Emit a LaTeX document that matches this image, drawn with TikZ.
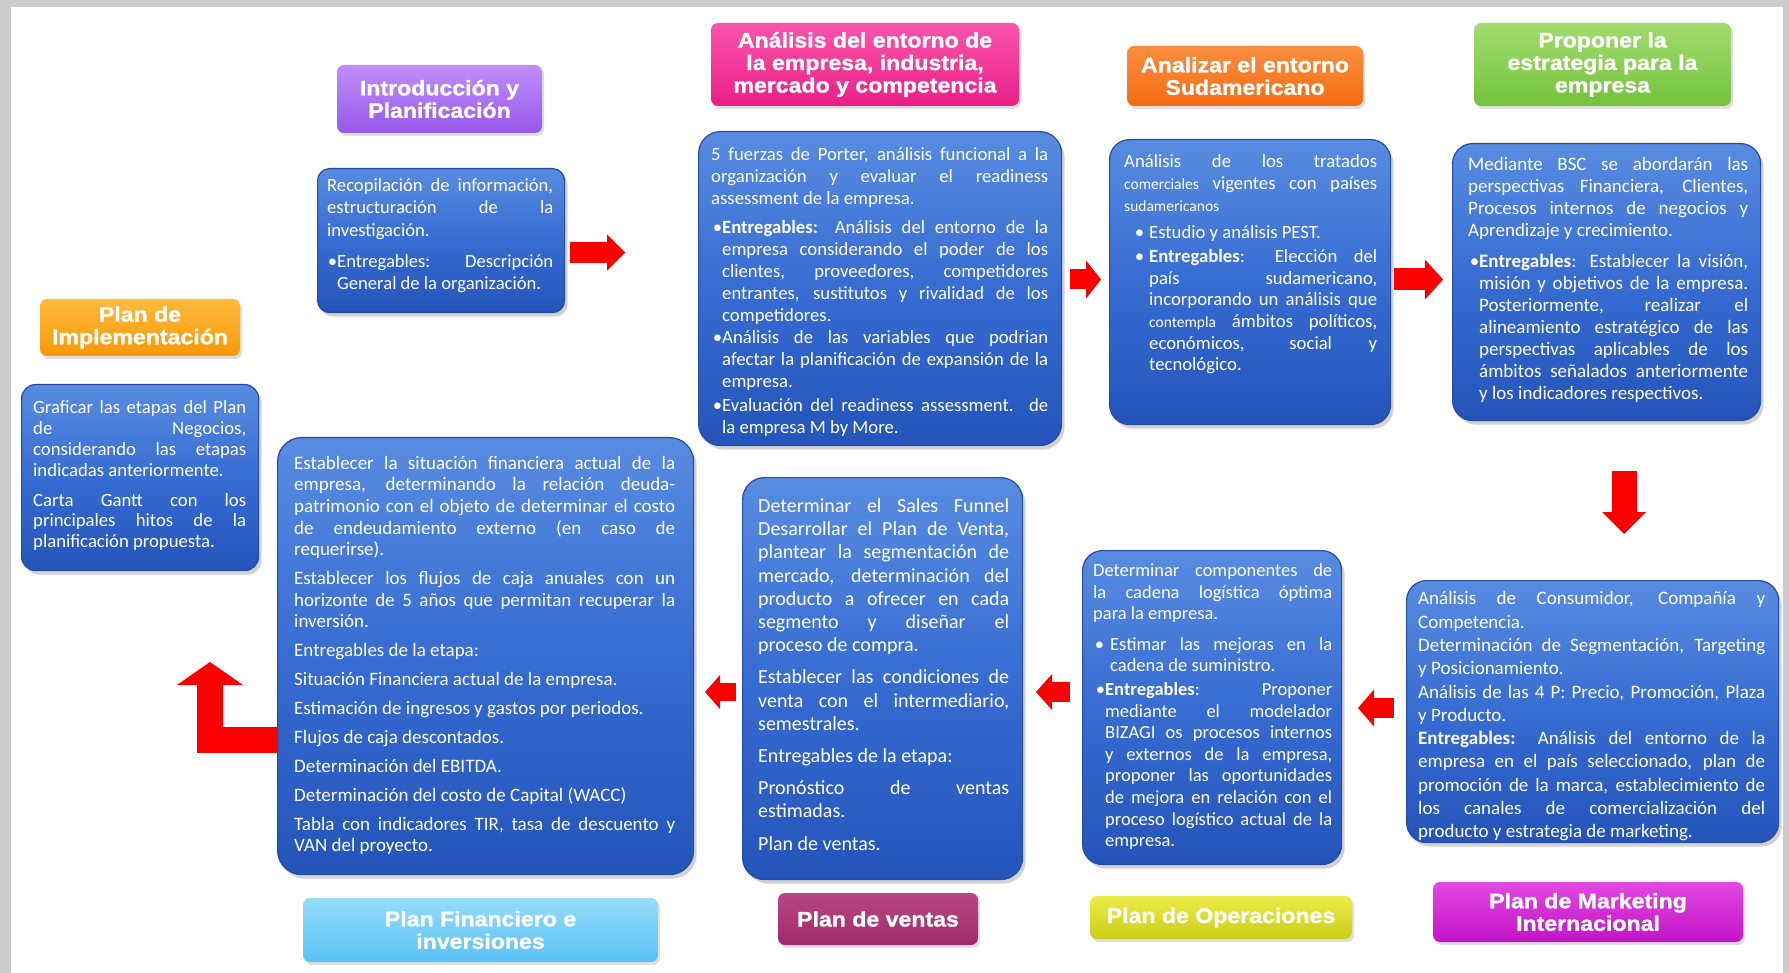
\documentclass[tikz,border=0pt]{standalone}
\usepackage{fontspec}
\setmainfont{Carlito}
\newfontfamily\titlefont{Liberation Sans}[FakeStretch=1.1, FakeBold=1.2]
\usetikzlibrary{shadows,arrows.meta}

\definecolor{boxtop}{RGB}{88,140,225}
\definecolor{boxmid}{RGB}{55,108,210}
\definecolor{boxbot}{RGB}{36,84,186}
\definecolor{boxline}{RGB}{38,76,160}
\definecolor{arrred}{RGB}{250,0,0}

\newcommand\bul[3]{{\leftskip=#1\relax\noindent\llap{•\hspace{#2}}#3\par}}

\tikzset{
  bluebox/.style={draw=boxline, line width=1.2pt, rounded corners=18pt,
    top color=boxtop, bottom color=boxbot, middle color=boxmid,
    inner sep=0pt, anchor=north west,
    drop shadow={shadow xshift=3pt, shadow yshift=-4pt, opacity=0.35}},
  btxt/.style={text=white, inner sep=0pt, anchor=north west, align=justify},
  title/.style={rounded corners=7pt, text=white, align=center, inner sep=0pt,
    font=\titlefont\bfseries\fontsize{21}{22.5}\selectfont,
    drop shadow={shadow xshift=2pt, shadow yshift=-3pt, opacity=0.25}},
  redarr/.style={draw=arrred, line join=miter},
}

\begin{document}
\begin{tikzpicture}[x=1pt,y=-1pt]
\useasboundingbox (0,0) rectangle (1789,973);
\fill[gray!40] (0,0) rectangle (1789,973);
\fill[white] (11,7) rectangle (1783,973);

% ---------- titles ----------
\node[title, top color={rgb,255:red,192;green,142;blue,250}, bottom color={rgb,255:red,152;green,88;blue,235},
  minimum width=205pt, minimum height=68pt] (h1) at (439.5,99) {Introducción y\\Planificación};
\node[title, top color={rgb,255:red,250;green,85;blue,172}, bottom color={rgb,255:red,234;green,30;blue,135},
  minimum width=308pt, minimum height=83pt] (h2) at (865,64.5) {Análisis del entorno de\\la empresa, industria,\\mercado y competencia};
\node[title, top color={rgb,255:red,250;green,142;blue,62}, bottom color={rgb,255:red,245;green,108;blue,20},
  minimum width=236pt, minimum height=60pt] (h3) at (1245,76) {Analizar el entorno\\Sudamericano};
\node[title, top color={rgb,255:red,162;green,220;blue,110}, bottom color={rgb,255:red,115;green,194;blue,60},
  minimum width=257pt, minimum height=83pt] (h4) at (1602.5,64.5) {Proponer la\\estrategia para la\\empresa};
\node[title, top color={rgb,255:red,255;green,186;blue,60}, bottom color={rgb,255:red,248;green,152;blue,10},
  minimum width=200pt, minimum height=57pt] (h9) at (140,327.5) {Plan de\\Implementación};
\node[title, top color={rgb,255:red,150;green,220;blue,250}, bottom color={rgb,255:red,88;green,194;blue,245},
  minimum width=355pt, minimum height=64pt] (h8) at (480.5,930) {Plan Financiero e\\inversiones};
\node[title, top color={rgb,255:red,185;green,70;blue,132}, bottom color={rgb,255:red,158;green,44;blue,104},
  minimum width=200pt, minimum height=52pt] (h7) at (878,919) {Plan de ventas};
\node[title, top color={rgb,255:red,236;green,236;blue,72}, bottom color={rgb,255:red,204;green,204;blue,25},
  minimum width=262pt, minimum height=43pt] (h6) at (1221,917.5) {Plan de Operaciones};
\node[title, top color={rgb,255:red,226;green,72;blue,226}, bottom color={rgb,255:red,194;green,20;blue,200},
  minimum width=310pt, minimum height=60pt] (h5) at (1588,912) {Plan de Marketing\\Internacional};

% ---------- blue boxes ----------
\node[bluebox, rounded corners=12pt, minimum width=247pt, minimum height=144pt] (b1) at (317,168) {};
\node[bluebox, rounded corners=22pt, minimum width=363pt, minimum height=314pt] (b2) at (698,131) {};
\node[bluebox, rounded corners=20pt, minimum width=281pt, minimum height=285pt] (b3) at (1109,139) {};
\node[bluebox, rounded corners=20pt, minimum width=308pt, minimum height=277pt] (b4) at (1452,143) {};
\node[bluebox, rounded corners=20pt, minimum width=372pt, minimum height=262pt] (b5) at (1406,580) {};
\node[bluebox, rounded corners=20pt, minimum width=259pt, minimum height=314pt] (b6) at (1082,550) {};
\node[bluebox, rounded corners=22pt, minimum width=280pt, minimum height=402pt] (b7) at (742,477) {};
\node[bluebox, rounded corners=24pt, minimum width=416pt, minimum height=437pt] (b8) at (277,437) {};
\node[bluebox, rounded corners=14pt, minimum width=237pt, minimum height=186pt] (b9) at (21,384) {};

% ---------- texts ----------
\node[btxt, text width=226pt, font=\fontsize{18.6}{22.3}\selectfont] (t1) at (327,178.5) {%
\setlength\parindent{0pt}\setlength\parskip{9pt}%
Recopilación de información,\linebreak estructuración de la\linebreak investigación.\par
\bul{10pt}{0pt}{Entregables: Descripción\linebreak General de la organización.}};

\node[btxt, text width=337pt, font=\fontsize{18.7}{22}\selectfont] (t2) at (711,147.5) {%
\setlength\parindent{0pt}\setlength\parskip{0pt}%
5 fuerzas de Porter, análisis funcional a la\linebreak organización y evaluar el readiness\linebreak assessment de la empresa.\par\vspace{7pt}
\bul{11pt}{0pt}{\textbf{Entregables:} Análisis del entorno de la\linebreak empresa considerando el poder de los\linebreak clientes, proveedores, competidores\linebreak entrantes, sustitutos y rivalidad de los\linebreak competidores.}
\bul{11pt}{0pt}{Análisis de las variables que podrian\linebreak afectar la planificación de expansión de la\linebreak empresa.}\vspace{2pt}
\bul{11pt}{0pt}{Evaluación del readiness assessment. de\linebreak la empresa M by More.}};

\node[btxt, text width=253pt, font=\fontsize{18.7}{21.7}\selectfont] (t3) at (1124,154.5) {%
\setlength\parindent{0pt}\setlength\parskip{0pt}%
Análisis de los tratados\linebreak {\fontsize{15.5}{15}\selectfont comerciales} vigentes con países\linebreak {\fontsize{15.5}{15}\selectfont sudamericanos}\par\vspace{6pt}
\bul{25pt}{5pt}{Estudio y análisis PEST.}\vspace{2pt}
\bul{25pt}{5pt}{\textbf{Entregables}: Elección del\linebreak país sudamericano,\linebreak incorporando un análisis que\linebreak {\fontsize{15.5}{15}\selectfont contempla} ámbitos políticos,\linebreak económicos, social y\linebreak tecnológico.}};

\node[btxt, text width=280pt, font=\fontsize{19}{22}\selectfont] (t4) at (1468,157.5) {%
\setlength\parindent{0pt}\setlength\parskip{0pt}%
Mediante BSC se abordarán las\linebreak perspectivas Financiera, Clientes,\linebreak Procesos internos de negocios y\linebreak Aprendizaje y crecimiento.\par\vspace{9pt}
\bul{11pt}{0pt}{\textbf{Entregables}: Establecer la visión,\linebreak misión y objetivos de la empresa.\linebreak Posteriormente, realizar el\linebreak alineamiento estratégico de las\linebreak perspectivas aplicables de los\linebreak ámbitos señalados anteriormente\linebreak y los indicadores respectivos.}};

\node[btxt, text width=347pt, font=\fontsize{19}{23.3}\selectfont] (t5) at (1418,591.5) {%
\setlength\parindent{0pt}\setlength\parskip{0pt}%
Análisis de Consumidor, Compañía y\linebreak Competencia.\par
Determinación de Segmentación, Targeting\linebreak y Posicionamiento.\par
Análisis de las 4 P: Precio, Promoción, Plaza\linebreak y Producto.\par
\textbf{Entregables:} Análisis del entorno de la\linebreak empresa en el país seleccionado, plan de\linebreak promoción de la marca, establecimiento de\linebreak los canales de comercialización del\linebreak producto y estrategia de marketing.};

\node[btxt, text width=239pt, font=\fontsize{18.5}{21.6}\selectfont] (t6) at (1093,563.5) {%
\setlength\parindent{0pt}\setlength\parskip{0pt}%
Determinar componentes de\linebreak la cadena logística óptima\linebreak para la empresa.\par\vspace{9pt}
\bul{17pt}{6pt}{Estimar las mejoras en la\linebreak cadena de suministro.}\vspace{2pt}
\bul{12pt}{0pt}{\textbf{Entregables}: Proponer\linebreak mediante el modelador\linebreak BIZAGI os procesos internos\linebreak y externos de la empresa,\linebreak proponer las oportunidades\linebreak de mejora en relación con el\linebreak proceso logístico actual de la\linebreak empresa.}};

\node[btxt, text width=251pt, font=\fontsize{20}{23.2}\selectfont] (t7) at (758,498.5) {%
\setlength\parindent{0pt}\setlength\parskip{9pt}%
Determinar el Sales Funnel\linebreak Desarrollar el Plan de Venta,\linebreak plantear la segmentación de\linebreak mercado, determinación del\linebreak producto a ofrecer en cada\linebreak segmento y diseñar el\linebreak proceso de compra.\par
Establecer las condiciones de\linebreak venta con el intermediario,\linebreak semestrales.\par
Entregables de la etapa:\par
Pronóstico de ventas\linebreak estimadas.\par
Plan de ventas.};

\node[btxt, text width=381pt, font=\fontsize{19}{21.6}\selectfont] (t8) at (294,456) {%
\setlength\parindent{0pt}\setlength\parskip{7.3pt}%
Establecer la situación financiera actual de la\linebreak empresa, determinando la relación deuda-\linebreak patrimonio con el objeto de determinar el costo\linebreak de endeudamiento externo (en caso de\linebreak requerirse).\par
Establecer los flujos de caja anuales con un\linebreak horizonte de 5 años que permitan recuperar la\linebreak inversión.\par
Entregables de la etapa:\par
Situación Financiera actual de la empresa.\par
Estimación de ingresos y gastos por periodos.\par
Flujos de caja descontados.\par
Determinación del EBITDA.\par
Determinación del costo de Capital (WACC)\par
Tabla con indicadores TIR, tasa de descuento y\linebreak VAN del proyecto.};

\node[btxt, text width=213pt, font=\fontsize{18.7}{20.9}\selectfont] (t9) at (33,400.5) {%
\setlength\parindent{0pt}\setlength\parskip{8.8pt}%
Graficar las etapas del Plan\linebreak de Negocios,\linebreak considerando las etapas\linebreak indicadas anteriormente.\par
Carta Gantt con los\linebreak principales hitos de la\linebreak planificación propuesta.};

% ---------- arrows ----------
\coordinate (a1s) at (570,252.5); \coordinate (a1e) at (625,252.5);
\coordinate (a2s) at (1070,279.5); \coordinate (a2e) at (1101,279.5);
\coordinate (a3s) at (1394,279.5); \coordinate (a3e) at (1443,279.5);
\coordinate (a4s) at (1624,471); \coordinate (a4e) at (1624,534);
\coordinate (a5s) at (1394,708); \coordinate (a5e) at (1358,708);
\coordinate (a6s) at (1070,692); \coordinate (a6e) at (1036,692);
\coordinate (a7s) at (736,692); \coordinate (a7e) at (705,692);
\coordinate (l0) at (278,740); \coordinate (l1) at (210,740); \coordinate (l2) at (210,662);

\draw[redarr, line width=21pt, -{Triangle[length=18pt,width=36pt,line width=0pt]}] (a1s) -- (a1e);
\draw[redarr, line width=20pt, -{Triangle[length=15pt,width=38pt,line width=0pt]}] (a2s) -- (a2e);
\draw[redarr, line width=22pt, -{Triangle[length=18pt,width=40pt,line width=0pt]}] (a3s) -- (a3e);
\draw[redarr, line width=25pt, -{Triangle[length=22pt,width=44pt,line width=0pt]}] (a4s) -- (a4e);
\draw[redarr, line width=20pt, -{Triangle[length=16pt,width=37pt,line width=0pt]}] (a5s) -- (a5e);
\draw[redarr, line width=20pt, -{Triangle[length=16pt,width=36pt,line width=0pt]}] (a6s) -- (a6e);
\draw[redarr, line width=18pt, -{Triangle[length=15pt,width=34pt,line width=0pt]}] (a7s) -- (a7e);
\draw[redarr, line width=26pt, -{Triangle[length=23pt,width=66pt,line width=0pt]}] (l0) -- (l1) -- (l2);
\end{tikzpicture}
\end{document}
